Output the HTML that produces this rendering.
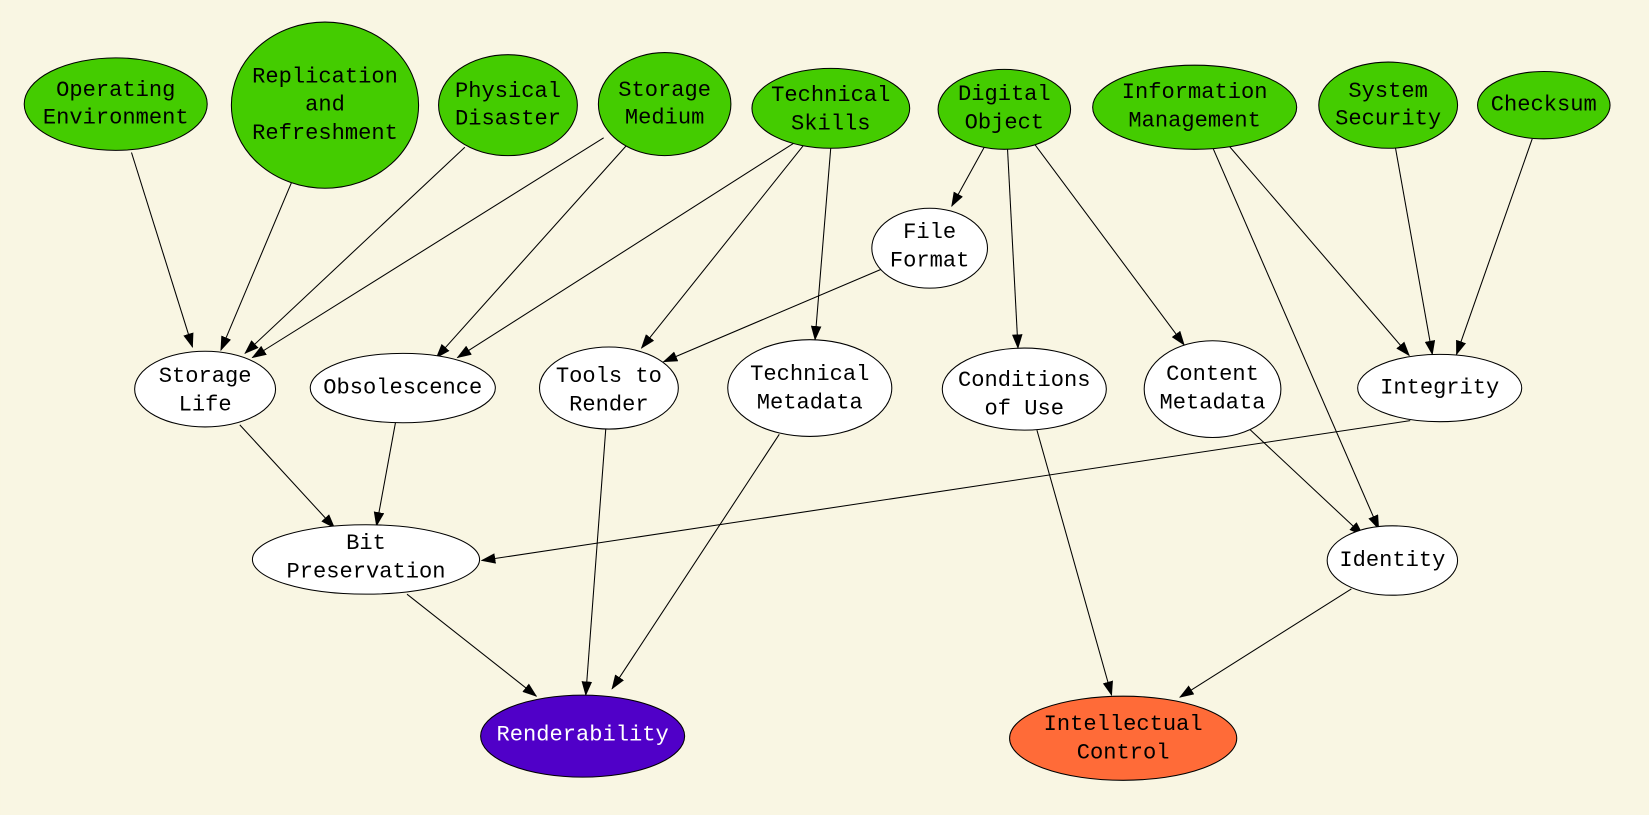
<!DOCTYPE html>
<html><head><meta charset="utf-8"><style>
html,body{margin:0;padding:0;background:#f9f6e3;}
svg{display:block;}
text{font-family:"Liberation Mono","DejaVu Sans Mono",monospace;font-size:21px;text-anchor:middle;dominant-baseline:central;}
</style></head><body>
<svg width="1649" height="815" viewBox="0 0 1568 775" xmlns="http://www.w3.org/2000/svg">
<defs><marker id="a" markerWidth="14" markerHeight="10" refX="13" refY="5" orient="auto" markerUnits="userSpaceOnUse"><path d="M0,0 L14,5 L0,10 Z" fill="#000"/></marker></defs>
<rect width="1568" height="775" fill="#f9f6e3"/>
<g stroke="#000" stroke-width="1" fill="none" marker-end="url(#a)">
<line x1="125" y1="145" x2="183" y2="330"/>
<line x1="277" y1="174" x2="210" y2="333"/>
<line x1="442" y1="140" x2="233" y2="336"/>
<line x1="574" y1="131" x2="240" y2="340"/>
<line x1="596" y1="138" x2="415" y2="340"/>
<line x1="755" y1="136" x2="435" y2="340"/>
<line x1="765" y1="137" x2="610" y2="331"/>
<line x1="790" y1="140" x2="775" y2="323"/>
<line x1="937" y1="138" x2="905" y2="196"/>
<line x1="958" y1="141" x2="968" y2="331"/>
<line x1="983" y1="136" x2="1126" y2="328"/>
<line x1="1153" y1="140" x2="1311" y2="503"/>
<line x1="1168" y1="138" x2="1340" y2="338"/>
<line x1="1327" y1="141" x2="1362" y2="337"/>
<line x1="1457" y1="132" x2="1385" y2="337"/>
<line x1="838" y1="256" x2="631" y2="344"/>
<line x1="228" y1="404" x2="318" y2="502"/>
<line x1="376" y1="402" x2="358" y2="500"/>
<line x1="1341" y1="400" x2="458" y2="533"/>
<line x1="576" y1="408" x2="557" y2="661"/>
<line x1="741" y1="413" x2="582" y2="655"/>
<line x1="387" y1="565" x2="510" y2="662"/>
<line x1="986" y1="409" x2="1057" y2="661"/>
<line x1="1187" y1="407" x2="1296" y2="509"/>
<line x1="1285" y1="560" x2="1122" y2="663"/>
</g>
<g stroke="#000" stroke-width="1">
<ellipse cx="110" cy="99" rx="87" ry="44" fill="#44cc00"/>
<ellipse cx="309" cy="100" rx="89" ry="79" fill="#44cc00"/>
<ellipse cx="483" cy="100" rx="66" ry="48" fill="#44cc00"/>
<ellipse cx="632" cy="99" rx="63" ry="49" fill="#44cc00"/>
<ellipse cx="790" cy="103" rx="75" ry="38" fill="#44cc00"/>
<ellipse cx="955" cy="104" rx="63" ry="38" fill="#44cc00"/>
<ellipse cx="1136" cy="102" rx="97" ry="40" fill="#44cc00"/>
<ellipse cx="1320" cy="100" rx="66" ry="41" fill="#44cc00"/>
<ellipse cx="1468" cy="100" rx="63" ry="32" fill="#44cc00"/>
<ellipse cx="884" cy="236" rx="55" ry="38" fill="#fff"/>
<ellipse cx="195" cy="370" rx="67" ry="36" fill="#fff"/>
<ellipse cx="383" cy="369" rx="88" ry="33" fill="#fff"/>
<ellipse cx="579" cy="369" rx="66" ry="39" fill="#fff"/>
<ellipse cx="770" cy="369" rx="78" ry="46" fill="#fff"/>
<ellipse cx="974" cy="370" rx="78" ry="39" fill="#fff"/>
<ellipse cx="1153" cy="370" rx="65" ry="46" fill="#fff"/>
<ellipse cx="1369" cy="369" rx="78" ry="32" fill="#fff"/>
<ellipse cx="348" cy="532" rx="108" ry="33" fill="#fff"/>
<ellipse cx="1324" cy="533" rx="62" ry="33" fill="#fff"/>
<ellipse cx="554" cy="700" rx="97" ry="39" fill="#5000c8"/>
<ellipse cx="1068" cy="702" rx="108" ry="40" fill="#ff6b38"/>
</g>
<g fill="#000">
<text x="110" y="86">Operating</text><text x="110" y="112">Environment</text>
<text x="309" y="73">Replication</text><text x="309" y="100">and</text><text x="309" y="127">Refreshment</text>
<text x="483" y="87">Physical</text><text x="483" y="113">Disaster</text>
<text x="632" y="86">Storage</text><text x="632" y="112">Medium</text>
<text x="790" y="91">Technical</text><text x="790" y="118">Skills</text>
<text x="955" y="90">Digital</text><text x="955" y="117">Object</text>
<text x="1136" y="88">Information</text><text x="1136" y="115">Management</text>
<text x="1320" y="87">System</text><text x="1320" y="113">Security</text>
<text x="1468" y="100">Checksum</text>
<text x="884" y="221">File</text><text x="884" y="248">Format</text>
<text x="195" y="358">Storage</text><text x="195" y="385">Life</text>
<text x="383" y="369">Obsolescence</text>
<text x="579" y="358">Tools to</text><text x="579" y="385">Render</text>
<text x="770" y="356">Technical</text><text x="770" y="383">Metadata</text>
<text x="974" y="362">Conditions</text><text x="974" y="389">of Use</text>
<text x="1153" y="356">Content</text><text x="1153" y="383">Metadata</text>
<text x="1369" y="369">Integrity</text>
<text x="348" y="517">Bit</text><text x="348" y="544">Preservation</text>
<text x="1324" y="533">Identity</text>
<text x="554" y="699" fill="#fff">Renderability</text>
<text x="1068" y="689">Intellectual</text><text x="1068" y="716">Control</text>
</g>
</svg>
</body></html>
